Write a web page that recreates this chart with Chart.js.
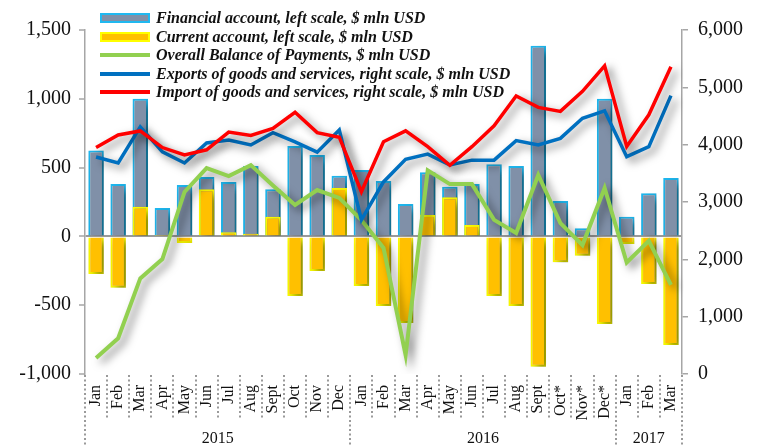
<!DOCTYPE html>
<html>
<head>
<meta charset="utf-8">
<script src="https://cdn.jsdelivr.net/npm/chart.js@4/dist/chart.umd.min.js"></script>
<style>
    html, body { margin: 0; padding: 0; background: #fff; }
    #wrap { position: relative; width: 762px; height: 446px; }
    #legend { position: absolute; left: 100px; top: 9px; font-family: 'Liberation Serif', 'Times New Roman', serif;
              font-weight: bold; font-style: italic; font-size: 16px; color: #111; }
    .row { display: flex; align-items: center; height: 18.5px; white-space: nowrap; }
    .sw { width: 50px; margin-right: 6px; box-sizing: border-box; }
</style>
</head>
<body>
<div id="wrap">
    <canvas id="bop-chart" width="762" height="446"></canvas>
    <div id="legend"></div>
</div>
<script>
const months = ['Jan','Feb','Mar','Apr','May','Jun','Jul','Aug','Sept','Oct','Nov','Dec',
                'Jan','Feb','Mar','Apr','May','Jun','Jul','Aug','Sept','Oct*','Nov*','Dec*',
                'Jan','Feb','Mar'];
const years = ['2015', '2016', '2017'];
const yearStart = [0, 12, 24];

const financialAccount = [625, 380, 1000, 207, 374, 432, 395, 511, 343, 657, 591, 440,
                          482, 402, 235, 466, 360, 380, 525, 511, 1385, 257, 60, 1000,
                          143, 314, 425];
const currentAccount = [-273, -373, 215, 3, -48, 343, 30, 20, 142, -433, -252, 352,
                        -360, -506, -630, 155, 285, 83, -433, -506, -947, -188, -140, -636,
                        -55, -346, -790];
const overallBalance = [-884, -740, -305, -165, 323, 496, 438, 518, 370, 228, 337, 280,
                        119, -84, -862, 480, 380, 380, 120, 25, 446, 97, -63, 352,
                        -190, -33, -353];
const exportsGS = [3785, 3680, 4310, 3875, 3680, 4030, 4080, 3995, 4210, 4050, 3870, 4255,
                   2690, 3350, 3745, 3835, 3645, 3730, 3730, 4070, 3995, 4110, 4460, 4590,
                   3790, 3965, 4855];
const importsGS = [3950, 4170, 4240, 3950, 3820, 3910, 4220, 4160, 4285, 4565, 4210, 4130,
                   3180, 4050, 4240, 3965, 3640, 3965, 4330, 4850, 4650, 4580, 4930, 5375,
                   3970, 4520, 5360];

const leftTicks = [-1000, -500, 0, 500, 1000, 1500];
const rightTicks = [0, 1000, 2000, 3000, 4000, 5000, 6000];

const serif = "'Liberation Serif', 'Times New Roman', serif";
const fmt = v => v.toLocaleString('en-US');

// drop shadow under every series
const shadowPlugin = {
    id: 'shadow',
    beforeDatasetDraw(chart) {
        const ctx = chart.ctx;
        ctx.save();
        ctx.shadowColor = 'rgba(0,0,0,0.5)';
        ctx.shadowBlur = 8;
        ctx.shadowOffsetX = 5;
        ctx.shadowOffsetY = 4;
    },
    afterDatasetDraw(chart) {
        chart.ctx.restore();
    }
};

// dotted category separators and year labels under the x axis
const yearsPlugin = {
    id: 'years',
    afterDraw(chart) {
        const ctx = chart.ctx;
        const x = chart.scales.x;
        const top = chart.chartArea.bottom + 1;
        const half = (x.getPixelForValue(1) - x.getPixelForValue(0)) / 2;
        ctx.save();
        ctx.strokeStyle = '#9a9a9a';
        ctx.lineWidth = 2;
        ctx.setLineDash([2, 2.5]);
        for (let i = 0; i <= months.length; i++) {
            const px = Math.round((i < months.length ? x.getPixelForValue(i) - half : x.getPixelForValue(i - 1) + half));
            const isYear = yearStart.includes(i) || i === months.length;
            ctx.beginPath();
            ctx.moveTo(px, top);
            ctx.lineTo(px, isYear ? 446 : 420);
            ctx.stroke();
        }
        ctx.setLineDash([]);
        ctx.fillStyle = '#111';
        ctx.font = '16px ' + serif;
        ctx.textAlign = 'center';
        ctx.textBaseline = 'middle';
        years.forEach((y, k) => {
            const a = x.getPixelForValue(yearStart[k]) - half;
            const endIdx = k + 1 < yearStart.length ? yearStart[k + 1] - 1 : months.length - 1;
            const b = x.getPixelForValue(endIdx) + half;
            ctx.fillText(y, (a + b) / 2, 439);
        });
        ctx.restore();
    }
};

const config = {
    data: {
        labels: months,
        datasets: [
            {
                type: 'line', label: 'Import of goods and services, right scale, $ mln USD',
                data: importsGS, yAxisID: 'y1', borderColor: '#ff0000', borderWidth: 3.5,
                pointRadius: 0, tension: 0, order: 1
            },
            {
                type: 'line', label: 'Exports of goods and services, right scale, $ mln USD',
                data: exportsGS, yAxisID: 'y1', borderColor: '#0070c0', borderWidth: 3.5,
                pointRadius: 0, tension: 0, order: 2
            },
            {
                type: 'line', label: 'Overall Balance of Payments, $ mln USD',
                data: overallBalance, yAxisID: 'y', borderColor: '#92d050', borderWidth: 4,
                pointRadius: 0, tension: 0, order: 3
            },
            {
                type: 'bar', label: 'Current account, left scale, $ mln USD',
                data: currentAccount, yAxisID: 'y', backgroundColor: '#ffc000',
                borderColor: '#ffff00', borderWidth: 2, grouped: false,
                barPercentage: 0.7, categoryPercentage: 1, order: 4
            },
            {
                type: 'bar', label: 'Financial account, left scale, $ mln USD',
                data: financialAccount, yAxisID: 'y', backgroundColor: '#8090a8',
                borderColor: '#1fb8f0', borderWidth: 2, grouped: false,
                barPercentage: 0.7, categoryPercentage: 1, order: 5
            }
        ]
    },
    options: {
        responsive: false,
        animation: false,
        layout: { padding: { top: 30, bottom: 0, left: 0, right: 0 } },
        plugins: {
            legend: { display: false },
            tooltip: { enabled: false }
        },
        scales: {
            x: {
                offset: true,
                grid: { display: false },
                border: { display: false },
                ticks: {
                    color: '#111', font: { family: serif, size: 16 },
                    minRotation: 90, maxRotation: 90, autoSkip: false, padding: 3
                },
                afterFit(scale) { scale.height = 72; }
            },
            y: {
                position: 'left', min: -1000, max: 1500,
                afterBuildTicks(scale) { scale.ticks = leftTicks.map(v => ({value: v})); },
                border: { display: true, color: '#a6a6a6', width: 1.5 },
                grid: {
                    color: c => c.tick && c.tick.value === 0 ? '#9a9a9a' : 'transparent',
                    lineWidth: 2, borderDash: [2, 3], tickColor: '#a6a6a6',
                    tickLength: 6, tickBorderDash: [], tickWidth: 1.5
                },
                ticks: { color: '#111', font: { family: serif, size: 20 }, padding: 8, callback: v => fmt(v) },
                afterFit(scale) { scale.width = 85; }
            },
            y1: {
                position: 'right', min: 0, max: 6000,
                afterBuildTicks(scale) { scale.ticks = rightTicks.map(v => ({value: v})); },
                border: { display: true, color: '#a6a6a6', width: 1.5 },
                grid: { drawOnChartArea: false, color: '#a6a6a6', tickLength: 6, lineWidth: 1.5 },
                ticks: { color: '#111', font: { family: serif, size: 20 }, padding: 10, callback: v => fmt(v) },
                afterFit(scale) { scale.width = 80; }
            }
        }
    },
    plugins: [shadowPlugin, yearsPlugin]
};

const ctx = document.getElementById('bop-chart').getContext('2d');
window.bopChart = new Chart(ctx, config);

// legend in the original order (financial, current, overall, exports, imports)
const legend = document.getElementById('legend');
[4, 3, 2, 1, 0].forEach(i => {
    const ds = config.data.datasets[i];
    const row = document.createElement('div');
    row.className = 'row';
    const sw = document.createElement('span');
    sw.className = 'sw';
    if (ds.type === 'bar') {
        sw.style.height = '10px';
        sw.style.background = ds.backgroundColor;
        sw.style.border = '2px solid ' + ds.borderColor;
    } else {
        sw.style.height = '4px';
        sw.style.background = ds.borderColor;
    }
    const txt = document.createElement('span');
    txt.textContent = ds.label;
    row.appendChild(sw);
    row.appendChild(txt);
    legend.appendChild(row);
});
</script>
</body>
</html>
